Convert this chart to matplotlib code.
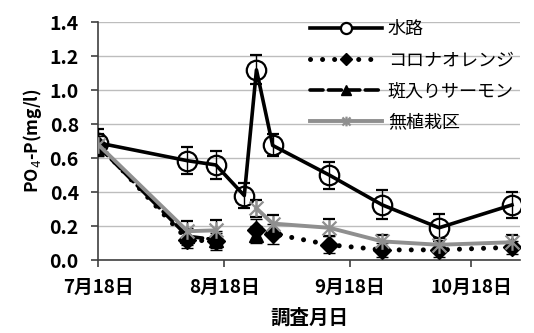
import datetime as dt
import numpy as np
import matplotlib
matplotlib.use("Agg")
import matplotlib.pyplot as plt
from matplotlib.path import Path
from matplotlib.lines import Line2D

plt.rcParams['font.family'] = ['Noto Sans CJK JP', 'DejaVu Sans']

# Sampling dates (days after 18 July)
start = dt.date(2012, 7, 18)
day_offsets = [0, 22, 29, 36, 39, 43, 57, 70, 84, 102]
dates = [start + dt.timedelta(days=d) for d in day_offsets]

series_names = ['水路', 'コロナオレンジ', '斑入りサーモン', '無植栽区']

suiro = [0.69, 0.585, 0.56, 0.38, 1.12, 0.675, 0.50, 0.325, 0.19, 0.325]
suiro_err = [0.08, 0.08, 0.08, 0.075, 0.085, 0.065, 0.08, 0.085, 0.08, 0.075]

corona = [0.68, 0.12, 0.11, np.nan, 0.18, 0.155, 0.09, 0.06, 0.06, 0.075]
corona_err = [0.06, 0.05, 0.05, np.nan, 0.06, 0.06, 0.05, 0.04, 0.04, 0.04]

fuiri = [0.67, 0.14, 0.12, np.nan, 0.15, np.nan, np.nan, np.nan, np.nan, np.nan]
fuiri_err = [0.06, 0.05, 0.05, np.nan, 0.05, np.nan, np.nan, np.nan, np.nan, np.nan]

mushokusai = [0.68, 0.17, 0.175, np.nan, 0.305, 0.215, 0.19, 0.11, 0.09, 0.105]
mushokusai_err = [0.06, 0.06, 0.06, np.nan, 0.05, 0.05, 0.05, 0.04, 0.04, 0.04]

y_ticks = [0.0, 0.2, 0.4, 0.6, 0.8, 1.0, 1.2, 1.4]
x_tick_dates = [dt.date(2012, 7, 18), dt.date(2012, 8, 18),
                dt.date(2012, 9, 18), dt.date(2012, 10, 18)]

# asterisk marker: X with a vertical stroke
star = Path([(-1, -1), (1, 1), (-1, 1), (1, -1), (0, -1.2), (0, 1.2)],
            [Path.MOVETO, Path.LINETO] * 3)

gray = '#8f8f8f'
dotted = (0, (0.01, 2.4))
dashed = (0, (3.6, 1.5))

styles = {
    '水路': dict(color='black', lw=2.6, ls='-', marker='o', mfc='none', mec='black', mew=1.6, ms=14),
    'コロナオレンジ': dict(color='black', lw=3.6, ls=dotted, marker='D', mfc='black', mec='black', mew=1, ms=9),
    '斑入りサーモン': dict(color='black', lw=2.6, ls=dashed, marker='^', mfc='black', mec='black', mew=1, ms=10),
    '無植栽区': dict(color=gray, lw=2.8, ls='-', marker=star, mfc='none', mec=gray, mew=1.6, ms=12),
}
legend_ms = {'水路': 8, 'コロナオレンジ': 6, '斑入りサーモン': 7, '無植栽区': 7}

fig = plt.figure(figsize=(5.34, 3.33), dpi=100)
ax = fig.add_axes([0.184, 0.219, 0.790, 0.714])

data = [(suiro, suiro_err, 3), (corona, corona_err, 5),
        (fuiri, fuiri_err, 4), (mushokusai, mushokusai_err, 6)]
for name, (vals, errs, z) in zip(series_names, data):
    st = styles[name]
    ax.errorbar(dates, vals, yerr=errs, color=st['color'], lw=st['lw'],
                linestyle=st['ls'], dash_capstyle='round',
                marker=st['marker'], ms=st['ms'], mfc=st['mfc'], mec=st['mec'],
                mew=st['mew'], ecolor='black', elinewidth=1, capsize=4.5,
                capthick=1, zorder=z)

ax.set_xlim(dt.date(2012, 7, 18), dt.date(2012, 10, 30))
ax.set_ylim(0, 1.4)
ax.set_yticks(y_ticks)
ax.set_yticklabels([f'{v:.1f}' for v in y_ticks], fontsize=14, fontweight='bold')
ax.set_xticks(x_tick_dates)
ax.set_xticklabels([f'{d.month}月{d.day}日' for d in x_tick_dates],
                   fontsize=13.5, fontweight='bold')

ax.grid(axis='y', color='#bdbdbd', lw=1)
ax.set_axisbelow(True)
for s in ('top', 'right'):
    ax.spines[s].set_visible(False)
for s in ('left', 'bottom'):
    ax.spines[s].set_color('#404040')
    ax.spines[s].set_linewidth(1.2)
ax.tick_params(axis='both', direction='out', length=5, width=1.2, color='#404040')
ax.tick_params(axis='x', pad=8)
ax.tick_params(axis='y', pad=9)

ax.set_ylabel('PO$_4$-P(mg/l)', fontsize=12.5, fontweight='bold', labelpad=4)
ax.set_xlabel('調査月日', fontsize=14, fontweight='bold', labelpad=8)

handles = []
for name in series_names:
    st = styles[name]
    handles.append(Line2D([], [], color=st['color'], lw=st['lw'], linestyle=st['ls'],
                          dash_capstyle='round', marker=st['marker'],
                          ms=legend_ms[name], mfc=st['mfc'] if name != '水路' else 'white',
                          mec=st['mec'], mew=st['mew']))
fig.legend(handles, series_names,
           loc='upper left', bbox_to_anchor=(0.580, 0.94),
           frameon=False, numpoints=1, handlelength=4.0, handletextpad=0.33,
           labelspacing=0.72, borderpad=0, borderaxespad=0, fontsize=13)

fig.savefig('out.png', dpi=100)
